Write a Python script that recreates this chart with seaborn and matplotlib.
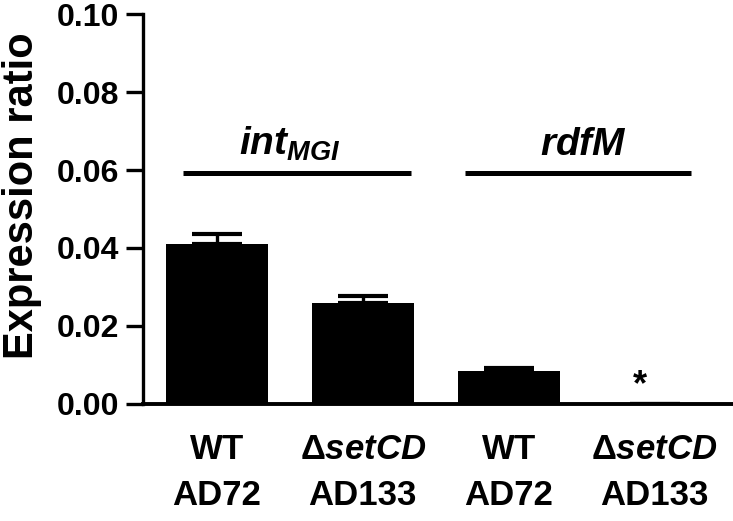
import matplotlib
matplotlib.use("Agg")
import matplotlib.pyplot as plt
import matplotlib.transforms as mtransforms
import seaborn as sns
import pandas as pd

# ---- data ----
genotypes = ["WT", "ΔsetCD", "WT", "ΔsetCD"]
strains = ["AD72", "AD133", "AD72", "AD133"]
genes = ["int", "int", "rdfM", "rdfM"]
ratios = [0.0410, 0.0259, 0.0085, 0.0]
errors = [0.0026, 0.0018, 0.0008, 0.0]
yticks = [0.00, 0.02, 0.04, 0.06, 0.08, 0.10]
gene_labels = [r"$\mathit{int}_{\mathit{MGI}}$", r"$\mathit{rdfM}$"]
tick_labels = [r"$\mathrm{WT}$", r"$\mathrm{\Delta}\mathit{setCD}$",
               r"$\mathrm{WT}$", r"$\mathrm{\Delta}\mathit{setCD}$"]

sns.set_theme(style="ticks")
plt.rcParams["font.family"] = ["Liberation Sans", "DejaVu Sans"]
plt.rcParams["font.weight"] = "bold"
plt.rcParams["mathtext.fontset"] = "custom"
plt.rcParams["mathtext.rm"] = "Liberation Sans:bold"
plt.rcParams["mathtext.it"] = "Liberation Sans:italic:bold"
plt.rcParams["mathtext.bf"] = "Liberation Sans:bold"
for k in ["text.color", "axes.edgecolor", "axes.labelcolor", "xtick.color", "ytick.color"]:
    plt.rcParams[k] = "black"

df = pd.DataFrame({"pos": list(range(len(ratios))), "ratio": ratios})

fig = plt.figure(figsize=(7.33, 5.21), dpi=100)
ax = fig.add_axes([0.195, 0.2246, 0.8036, 0.7485])

sns.barplot(data=df, x="pos", y="ratio", color="black", width=0.7,
            errorbar=None, saturation=1, ax=ax, linewidth=0)
ax.errorbar(df["pos"], df["ratio"], yerr=[[0] * len(errors), errors],
            fmt="none", ecolor="black", elinewidth=2.4, capsize=18,
            capthick=3.0)

ax.set_xlim(-0.507, 3.53)
ax.set_ylim(0, 0.10)
ax.set_yticks(yticks)
ax.set_yticklabels([f"{v:.2f}" for v in yticks], fontsize=23, fontweight="bold")
ax.set_ylabel("Expression ratio", fontsize=30, fontweight="bold")
ax.yaxis.set_label_coords(-0.172, 0.535)
ax.set_xlabel("")
ax.set_xticks(range(len(ratios)))
ax.set_xticklabels(tick_labels, fontsize=25)
ax.tick_params(axis="x", length=0, pad=21)
ax.tick_params(axis="y", length=12, width=2.4, pad=5, direction="out")

for side in ["top", "right"]:
    ax.spines[side].set_visible(False)
ax.spines["left"].set_linewidth(2.4)
ax.spines["bottom"].set_linewidth(2.8)

# second row of x labels
trans = mtransforms.blended_transform_factory(ax.transData, ax.transAxes)
for i, s in enumerate(strains):
    ax.text(i, -0.235, s, transform=trans, ha="center", va="center",
            fontsize=25, fontweight="bold")

# gene brackets
ax.plot([-0.23, 1.33], [0.0592, 0.0592], color="black", lw=3.6, solid_capstyle="butt")
ax.plot([1.70, 3.25], [0.0592, 0.0592], color="black", lw=3.6, solid_capstyle="butt")
ax.text(0.5, 0.0638, gene_labels[0], ha="center", va="baseline", fontsize=28)
ax.text(2.51, 0.0638, gene_labels[1], ha="center", va="baseline", fontsize=28)

# asterisk for undetected
ax.text(3 - 0.1, 0.0046, "*", ha="center", va="center", fontsize=26, fontweight="bold")

fig.savefig("out.png", dpi=100)
